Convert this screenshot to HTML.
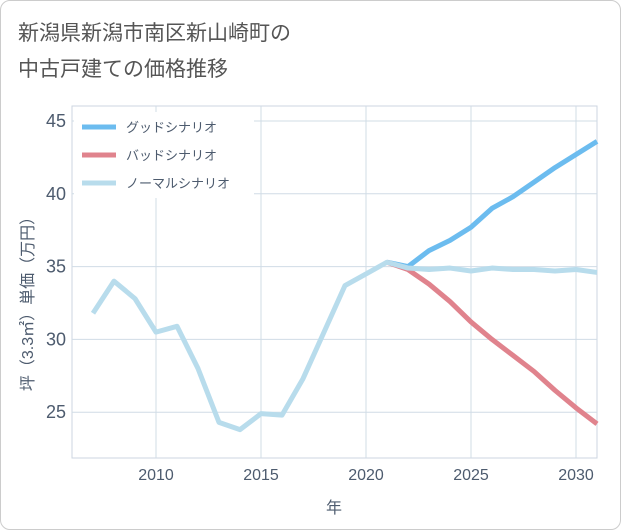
<!DOCTYPE html>
<html><head><meta charset="utf-8"><style>
body{margin:0;background:#fff;font-family:"Liberation Sans","Noto Sans CJK JP",sans-serif;}
#frame{position:absolute;left:0;top:0;width:619px;height:528px;border:1px solid #ccc;border-radius:10px;background:#fff;}
</style></head><body>
<div id="frame"></div>
<svg id="chart" width="621" height="530" style="position:absolute;left:0;top:0">
<text x="18" y="40" font-size="21" fill="#555" font-family="Liberation Sans, Noto Sans CJK JP, sans-serif">新潟県新潟市南区新山崎町の</text>
<text x="18" y="76" font-size="21" fill="#555" font-family="Liberation Sans, Noto Sans CJK JP, sans-serif">中古戸建ての価格推移</text>
<g id="grid"></g><g id="series"></g><g id="axes"></g><g id="legend"></g>
</svg>
<script>
const years=[2007,2008,2009,2010,2011,2012,2013,2014,2015,2016,2017,2018,2019,2020,2021,2022,2023,2024,2025,2026,2027,2028,2029,2030,2031];
const normalVals=[31.8,34.0,32.8,30.5,30.9,28.0,24.3,23.8,24.9,24.8,27.3,30.5,33.7,34.5,35.3,34.9,34.8,34.9,34.7,34.9,34.8,34.8,34.7,34.8,34.6];
const futureYears=[2021,2022,2023,2024,2025,2026,2027,2028,2029,2030,2031];
const goodVals=[35.3,35.0,36.1,36.8,37.7,39.0,39.8,40.8,41.8,42.7,43.6];
const badVals=[35.3,34.8,33.8,32.6,31.2,30.0,28.9,27.8,26.5,25.3,24.2];
const xTicks=[2010,2015,2020,2025,2030];
const yTicks=[25,30,35,40,45];
const legendLabels=["グッドシナリオ","バッドシナリオ","ノーマルシナリオ"];
const NS="http://www.w3.org/2000/svg";
const L=72,R=597,T=106,B=458;
const TC='#4d5b6e';
const x=v=>156+(v-2010)*21;
const y=v=>121+(45-v)*14.56;
function mk(tag,attrs,parent){const e=document.createElementNS(NS,tag);for(const k in attrs)e.setAttribute(k,attrs[k]);document.getElementById(parent).appendChild(e);return e;}
const g=mk('rect',{x:L,y:T,width:R-L,height:B-T,fill:'none',stroke:'#ccd6e0'},'grid');


xTicks.forEach(t=>{const l=mk('line',{x1:x(t),x2:x(t),y1:T,y2:B,stroke:'#d0dce6'},'grid');


const tx=mk('text',{x:x(t),y:480,'font-size':16,fill:TC,'text-anchor':'middle'},'axes');tx.textContent=t;

});
yTicks.forEach(t=>{const l=mk('line',{x1:L,x2:R,y1:y(t),y2:y(t),stroke:'#d0dce6'},'grid');


const tx=mk('text',{x:66,y:y(t)+6,'font-size':18,fill:TC,'text-anchor':'end'},'axes');tx.textContent=t;

});
const xt=mk('text',{x:334,y:513,'font-size':16,fill:TC,'text-anchor':'middle'},'axes');xt.textContent='年';


const yt=mk('text',{x:0,y:0,'font-size':16,fill:TC,'text-anchor':'middle',transform:'translate(33,300) rotate(-90)'},'axes');yt.textContent='坪（3.3㎡）単価（万円）';


function line(xs,vs,color,name){const p=mk('polyline',{points:xs.map((a,i)=>x(a)+','+y(vs[i])).join(' '),fill:'none',stroke:color,'stroke-width':5,'stroke-linejoin':'round'},'series');

}
line(futureYears,goodVals,'#6cbcef','good-scenario-line');
line(futureYears,badVals,'#e0838d','bad-scenario-line');
line(years,normalVals,'#b8dcec','normal-scenario-line');
const lc=['#6cbcef','#e0838d','#b8dcec'];
const lb=mk('rect',{x:74,y:112,width:180,height:86,fill:'#fff'},'legend');


legendLabels.forEach((s,i)=>{const yy=127+i*28;
const l=mk('line',{x1:82,x2:116,y1:yy,y2:yy,stroke:lc[i],'stroke-width':5},'legend');


const t=mk('text',{x:126,y:yy+5,'font-size':13,fill:TC},'legend');t.textContent=s;

});
</script>
</body></html>
